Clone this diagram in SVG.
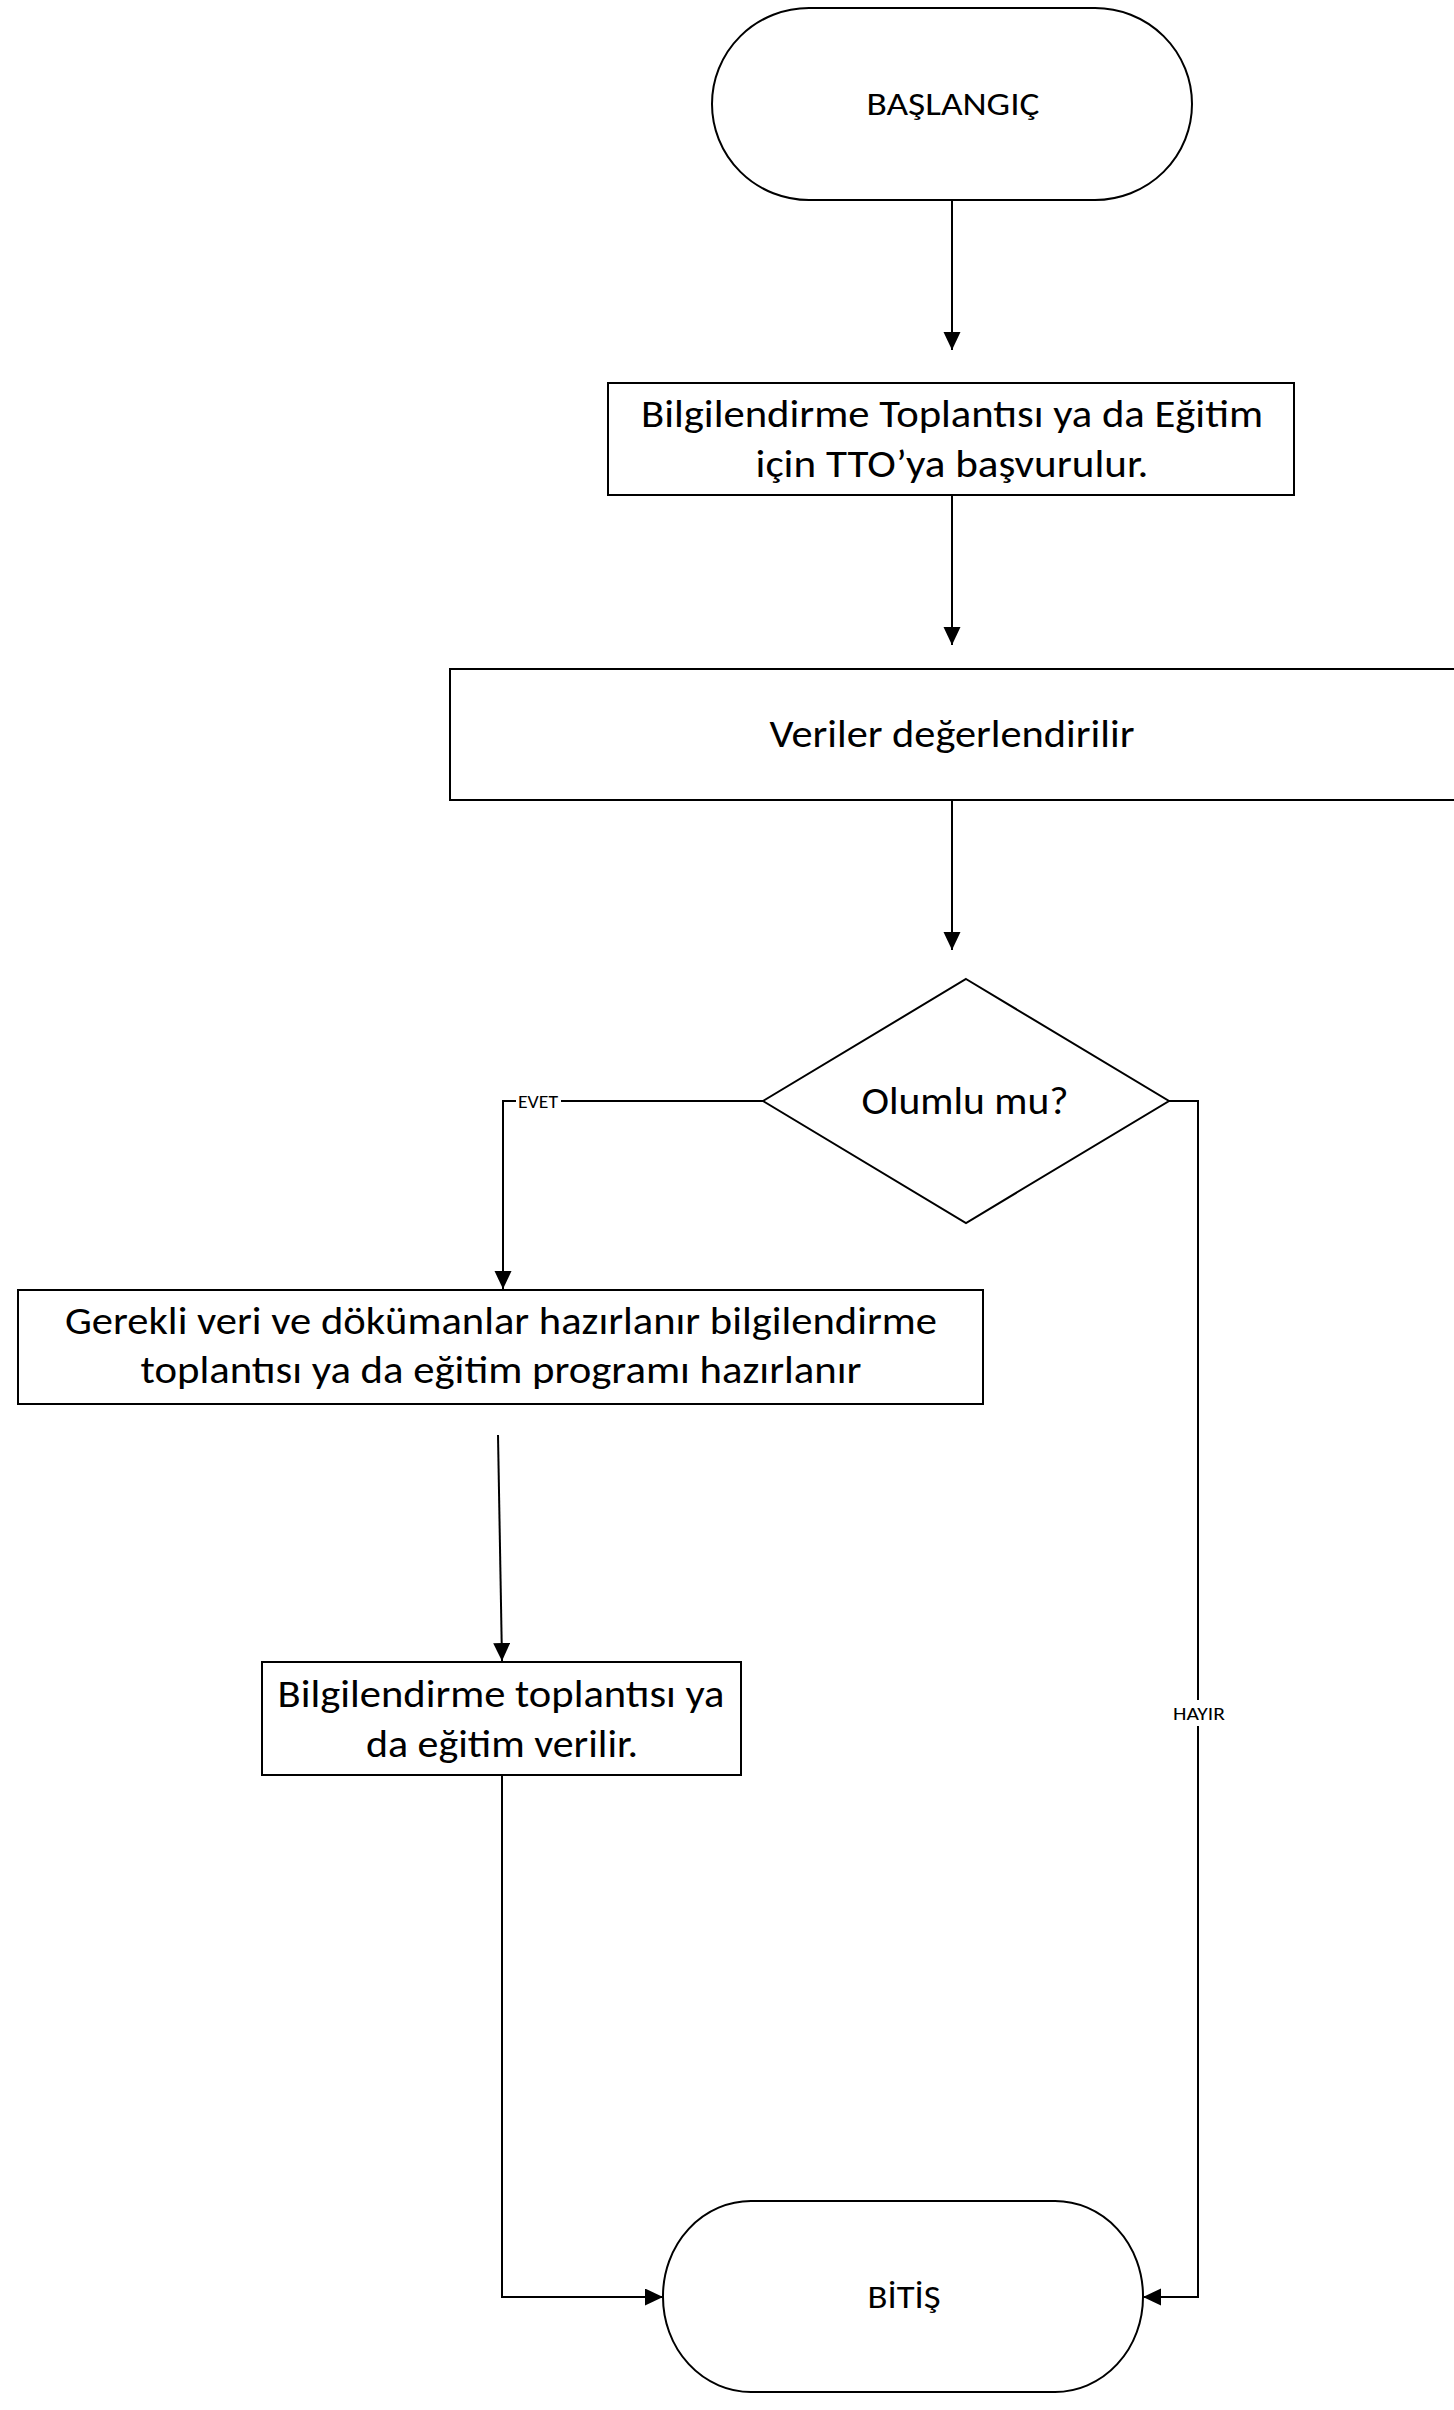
<svg xmlns="http://www.w3.org/2000/svg" width="1454" height="2410" viewBox="0 0 1454 2410">
  <style>
    .shape { fill: #ffffff; stroke: #000000; stroke-width: 2; }
    .conn { fill: none; stroke: #000000; stroke-width: 2; }
    .t { font-family: Carlito, Lato, "Liberation Sans", sans-serif; fill: #000000; text-anchor: middle; }
    .main { font-size: 38px; }
    .term { font-size: 33px; }
    .lbl { font-size: 18px; }
    .bg { fill: #ffffff; stroke: none; }
  </style>
  <defs>
    <marker id="arrow" markerUnits="userSpaceOnUse" markerWidth="18" markerHeight="18" refX="18" refY="8.5" orient="auto">
      <path d="M0,0 L18,8.5 L0,17 Z" fill="#000000"/>
    </marker>
  </defs>
  <rect x="0" y="0" width="1454" height="2410" fill="#ffffff"/>

  <g id="connectors">
    <path class="conn" d="M952,200 L952,350" marker-end="url(#arrow)"/>
    <path class="conn" d="M952,495 L952,645" marker-end="url(#arrow)"/>
    <path class="conn" d="M952,800 L952,950" marker-end="url(#arrow)"/>
    <path class="conn" d="M763,1101 L503,1101 L503,1289" marker-end="url(#arrow)"/>
    <path class="conn" d="M498,1435 L502,1661" marker-end="url(#arrow)"/>
    <path class="conn" d="M502,1775 L502,2297 L663,2297" marker-end="url(#arrow)"/>
    <path class="conn" d="M1169,1101 L1198,1101 L1198,2297 L1143,2297" marker-end="url(#arrow)"/>
    <g id="label-evet">
      <rect class="bg" x="516" y="1092" width="45" height="18"/>
      <text class="t lbl" x="538" y="1108" textLength="40" lengthAdjust="spacingAndGlyphs">EVET</text>
    </g>
    <g id="label-hayir">
      <rect class="bg" x="1171" y="1700" width="56" height="26"/>
      <text class="t lbl" x="1199" y="1720" textLength="52" lengthAdjust="spacingAndGlyphs">HAYIR</text>
    </g>
  </g>

  <g id="start">
    <rect class="shape" x="712" y="8" width="480" height="192" rx="97" ry="96"/>
    <text class="t term" x="953" y="115" textLength="173" lengthAdjust="spacingAndGlyphs">BAŞLANGIÇ</text>
  </g>

  <g id="apply">
    <rect class="shape" x="608" y="383" width="686" height="112"/>
    <text class="t main" x="952" y="427" textLength="622" lengthAdjust="spacingAndGlyphs">Bilgilendirme Toplantısı ya da Eğitim</text>
    <text class="t main" x="952" y="477" textLength="393" lengthAdjust="spacingAndGlyphs">için TTO’ya başvurulur.</text>
  </g>

  <g id="evaluate">
    <rect class="shape" x="450" y="669" width="1012" height="131"/>
    <text class="t main" x="952" y="747" textLength="365" lengthAdjust="spacingAndGlyphs">Veriler değerlendirilir</text>
  </g>

  <g id="decision">
    <polygon class="shape" points="966,979 1169,1101 966,1223 763,1101"/>
    <text class="t main" x="965" y="1114" textLength="207" lengthAdjust="spacingAndGlyphs">Olumlu mu?</text>
  </g>

  <g id="prepare">
    <rect class="shape" x="18" y="1290" width="965" height="114"/>
    <text class="t main" x="501" y="1334" textLength="872" lengthAdjust="spacingAndGlyphs">Gerekli veri ve dökümanlar hazırlanır bilgilendirme</text>
    <text class="t main" x="501" y="1383" textLength="721" lengthAdjust="spacingAndGlyphs">toplantısı ya da eğitim programı hazırlanır</text>
  </g>

  <g id="deliver">
    <rect class="shape" x="262" y="1662" width="479" height="113"/>
    <text class="t main" x="501" y="1707" textLength="447" lengthAdjust="spacingAndGlyphs">Bilgilendirme toplantısı ya</text>
    <text class="t main" x="502" y="1757" textLength="272" lengthAdjust="spacingAndGlyphs">da eğitim verilir.</text>
  </g>

  <g id="end">
    <rect class="shape" x="663" y="2201" width="480" height="191" rx="88" ry="95"/>
    <text class="t term" x="904" y="2308" textLength="73" lengthAdjust="spacingAndGlyphs">BİTİŞ</text>
  </g>
</svg>
